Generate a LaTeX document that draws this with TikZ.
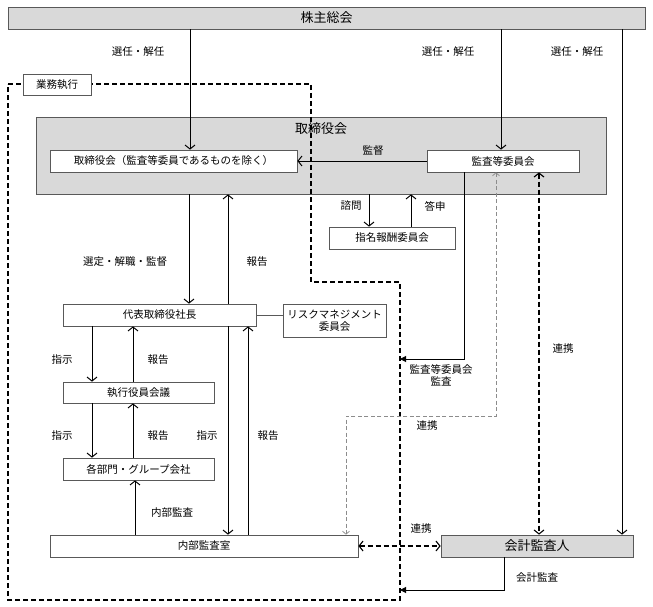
\documentclass[tikz,border=0pt]{standalone}
\usepackage{fontspec}
\setmainfont{Noto Sans CJK JP}
\usetikzlibrary{arrows.meta}

\definecolor{boxgray}{HTML}{D9D9D9}
\definecolor{boxline}{HTML}{595959}
\definecolor{linkgray}{HTML}{8C8C8C}

\begin{document}
\begin{tikzpicture}[x=1pt, y=-1pt,
        box/.style={draw=boxline, fill=white, line width=0.7pt, inner sep=0pt,
            font=\fontsize{10.5}{12}\selectfont},
        graybox/.style={box, fill=boxgray},
        bigtext/.style={font=\fontsize{13}{15}\selectfont},
        lbl/.style={inner sep=1pt, font=\fontsize{10.5}{12}\selectfont},
        conn/.style={line width=1pt, -{Straight Barb[length=4pt,width=10pt]}},
        tri/.style={line width=1pt, -{Triangle[length=6pt,width=6pt]}},
        dashlink/.style={line width=1.1pt, dash pattern=on 5pt off 3pt,
            {Straight Barb[length=4pt,width=10pt]}-{Straight Barb[length=4pt,width=10pt]}},
        graylink/.style={draw=linkgray, line width=0.7pt, dash pattern=on 4pt off 2.5pt,
            {Straight Barb[length=3pt,width=7pt]}-{Straight Barb[length=3pt,width=7pt]}},
        bound/.style={line width=1.1pt, dash pattern=on 5pt off 3pt}]
    \useasboundingbox (0,0) rectangle (653,607);

    % boxes
    \node [graybox, bigtext, minimum width=637, minimum height=22]
        (share) at (326.5, 18) {株主総会};
    \node [graybox, minimum width=570, minimum height=77]
        (board) at (321, 155.5) {};
    \node [lbl, bigtext] (boardlbl) at (321, 129) {取締役会};
    \node [box, minimum width=247, minimum height=22]
        (boardinner) at (173.5, 161) {取締役会（監査等委員であるものを除く）};
    \node [box, minimum width=152, minimum height=22]
        (auditcom) at (503, 161) {監査等委員会};
    \node [box, minimum width=126, minimum height=22]
        (nomcom) at (392, 238) {指名報酬委員会};
    \node [box, minimum width=193, minimum height=22]
        (president) at (159.5, 315) {代表取締役社長};
    \node [box, minimum width=103, minimum height=33, align=center]
        (risk) at (334.5, 320.5) {リスクマネジメント\\委員会};
    \node [box, minimum width=151, minimum height=21]
        (execmtg) at (138.5, 392.5) {執行役員会議};
    \node [box, minimum width=151, minimum height=22]
        (depts) at (138.5, 469) {各部門・グループ会社};
    \node [box, minimum width=308, minimum height=22]
        (internal) at (204, 546) {内部監査室};
    \node [graybox, bigtext, minimum width=192, minimum height=22]
        (accaud) at (537, 546) {会計監査人};

    % area of business execution
    \draw [bound] (8, 84) -- (311, 84) -- (311, 282) -- (400, 282)
        -- (400, 600) -- (8, 600) -- cycle;
    \node [box, minimum width=68, minimum height=21] (exectag) at (57, 84.5) {業務執行};
    \coordinate (auditin) at (400, 359);
    \coordinate (acctin) at (400, 590);
    \coordinate (grayturn) at (346, 416);

    % connectors
    \draw [conn] (share.south -| 190,0) -- (boardinner.north -| 190,0);
    \draw [conn] (share.south -| 501,0) -- (auditcom.north -| 501,0);
    \draw [conn] (share.south -| 622,0) -- (accaud.north -| 622,0);
    \draw [conn] (auditcom.west) -- (boardinner.east);
    \draw [conn] (board.south -| 369,0) -- (nomcom.north -| 369,0);
    \draw [conn] (nomcom.north -| 411,0) -- (board.south -| 411,0);
    \draw [conn] (board.south -| 189,0) -- (president.north -| 189,0);
    \draw [conn] (president.north -| 228,0) -- (board.south -| 228,0);
    \draw [line width=0.7pt, draw=boxline] (president.east) -- (president.east -| risk.west);
    \draw [conn] (president.south -| 92,0) -- (execmtg.north -| 92,0);
    \draw [conn] (execmtg.north -| 133,0) -- (president.south -| 133,0);
    \draw [conn] (execmtg.south -| 92,0) -- (depts.north -| 92,0);
    \draw [conn] (depts.north -| 133,0) -- (execmtg.south -| 133,0);
    \draw [conn] (president.south -| 228,0) -- (internal.north -| 228,0);
    \draw [conn] (internal.north -| 248,0) -- (president.south -| 248,0);
    \draw [conn] (internal.north -| 135,0) -- (depts.south -| 135,0);
    \draw [tri] (auditcom.south -| 464,0) |- (auditin);
    \draw [tri] (accaud.south -| 504,0) |- (acctin);
    \draw [graylink] (auditcom.south -| 496,0) |- (grayturn) -- (internal.north -| grayturn);
    \draw [dashlink] (auditcom.south -| 539,0) -- (accaud.north -| 539,0);
    \draw [dashlink] (internal.east) -- (accaud.west);

    % labels
    \node [lbl] (sel1) at (138, 52) {選任・解任};
    \node [lbl] (sel2) at (448, 52) {選任・解任};
    \node [lbl] (sel3) at (577, 52) {選任・解任};
    \node [lbl] (superv) at (373, 151) {監督};
    \node [lbl] (consult) at (351, 206) {諮問};
    \node [lbl] (answer) at (435, 206) {答申};
    \node [lbl] (appoint) at (125, 262) {選定・解職・監督};
    \node [lbl] (rep1) at (257, 262) {報告};
    \node [lbl] (inst1) at (62, 360) {指示};
    \node [lbl] (rep2) at (158, 360) {報告};
    \node [lbl] (inst2) at (62, 436) {指示};
    \node [lbl] (rep3) at (158, 436) {報告};
    \node [lbl] (inst3) at (207, 436) {指示};
    \node [lbl] (rep4) at (268, 436) {報告};
    \node [lbl] (intaudit) at (172, 513) {内部監査};
    \node [lbl, align=center] (auditlbl) at (441, 375.5) {監査等委員会\\監査};
    \node [lbl] (coop1) at (427, 426) {連携};
    \node [lbl] (coop2) at (563, 349) {連携};
    \node [lbl] (coop3) at (421, 529) {連携};
    \node [lbl] (acctaudit) at (537, 578) {会計監査};
\end{tikzpicture}
\end{document}
